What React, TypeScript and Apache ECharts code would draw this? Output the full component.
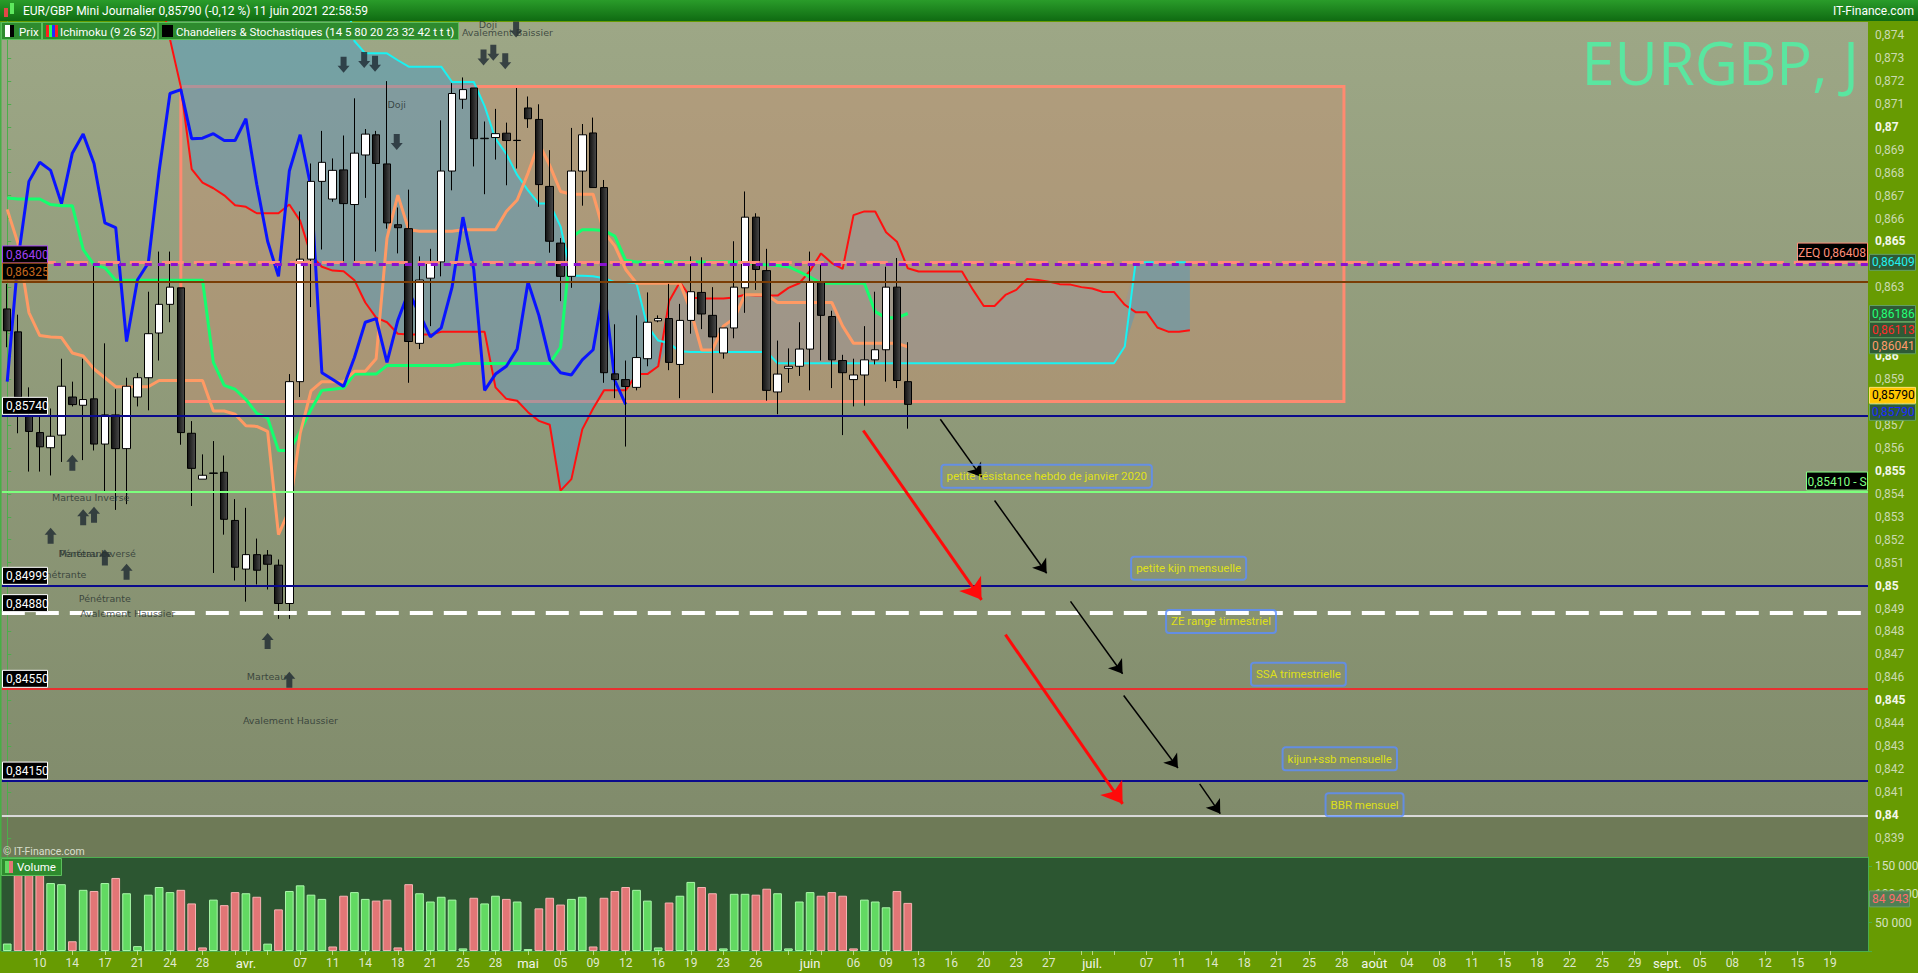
import React, { useEffect, useRef } from 'react';
import * as echarts from 'echarts';

// ---------- categories ----------
const firstSunday = [2021, 2, 7];
const barCount = 172;
const monthNames = ['janv.', 'févr.', 'mars', 'avr.', 'mai', 'juin', 'juil.', 'août', 'sept.', 'oct.', 'nov.', 'déc.'];

// ---------- candles (EUR/GBP daily) ----------
const opens = [
  0.86206, 0.86106, 0.85739, 0.85667, 0.85601, 0.85656, 0.85822, 0.85786, 0.85814, 0.85617,
  0.85744, 0.85597, 0.85822, 0.85906, 0.86101, 0.86226, 0.86298, 0.85664, 0.85464, 0.85489,
  0.85494, 0.85284, 0.85072, 0.85135, 0.85133, 0.85089, 0.84922, 0.85889, 0.86423, 0.86762,
  0.86685, 0.86812, 0.86661, 0.86877, 0.86965, 0.86838, 0.86573, 0.86556, 0.86056, 0.8634,
  0.86411, 0.86807, 0.8712, 0.87169, 0.86948, 0.86953, 0.86972, 0.86941, 0.87082, 0.87032,
  0.8674, 0.86493, 0.86348, 0.86807, 0.86973, 0.86735, 0.85923, 0.85898, 0.85864, 0.85989,
  0.86154, 0.86164, 0.85964, 0.86156, 0.86278, 0.86178, 0.86014, 0.86123, 0.86298, 0.86606,
  0.86373, 0.85844, 0.85947, 0.85956, 0.86031, 0.86323, 0.86173, 0.85981, 0.85898, 0.85918,
  0.85984, 0.86028, 0.86301, 0.85889,
];
const closes = [
  0.86111, 0.85822, 0.85672, 0.85605, 0.85651, 0.85869, 0.85789, 0.85811, 0.85617, 0.85744,
  0.85597, 0.85869, 0.85906, 0.86098, 0.86226, 0.86301, 0.85667, 0.85511, 0.85481, 0.85491,
  0.85289, 0.8508, 0.85135, 0.85067, 0.85093, 0.84922, 0.85889, 0.86423, 0.86762, 0.86845,
  0.8681, 0.86665, 0.86885, 0.86968, 0.8684, 0.86581, 0.8656, 0.86064, 0.86332, 0.86406,
  0.86807, 0.87145, 0.87162, 0.86948, 0.8695, 0.8697, 0.8694, 0.8694, 0.87035, 0.86748,
  0.86501, 0.86348, 0.86807, 0.86965, 0.86735, 0.85928, 0.85898, 0.85868, 0.85994, 0.86148,
  0.86164, 0.85973, 0.86156, 0.86281, 0.86184, 0.86084, 0.86123, 0.86301, 0.86606, 0.86378,
  0.85851, 0.85922, 0.85956, 0.86031, 0.86323, 0.86178, 0.85984, 0.85928, 0.85918, 0.85984,
  0.86028, 0.86301, 0.85894, 0.8579,
];
const lows = [
  0.86039, 0.85664, 0.85497, 0.85497, 0.8548, 0.85539, 0.85781, 0.85547, 0.85589, 0.85405,
  0.8533, 0.85355, 0.85781, 0.85764, 0.85981, 0.86148, 0.85614, 0.85347, 0.85464, 0.85055,
  0.85222, 0.85022, 0.8493, 0.85005, 0.84983, 0.84855, 0.84855, 0.85822, 0.86214, 0.86465,
  0.86673, 0.86406, 0.86415, 0.8669, 0.86456, 0.86556, 0.86448, 0.85884, 0.86031, 0.86131,
  0.86348, 0.86723, 0.87078, 0.86827, 0.86706, 0.86857, 0.86745, 0.86818, 0.86995, 0.86651,
  0.86451, 0.8624, 0.86298, 0.86656, 0.86735, 0.85884, 0.85817, 0.85606, 0.85851, 0.85956,
  0.86148, 0.85939, 0.85817, 0.86098, 0.86118, 0.85839, 0.85989, 0.86078, 0.86189, 0.86289,
  0.85806, 0.85747, 0.85884, 0.85914, 0.85851, 0.85981, 0.85861, 0.85656, 0.85781, 0.85784,
  0.85964, 0.85889, 0.85861, 0.85684,
];
const highs = [
  0.86315, 0.86181, 0.85864, 0.85739, 0.85772, 0.85989, 0.85889, 0.85989, 0.86398, 0.86056,
  0.85856, 0.85906, 0.85927, 0.86281, 0.86456, 0.86456, 0.86298, 0.85717, 0.85572, 0.8563,
  0.85567, 0.85377, 0.85339, 0.85205, 0.85155, 0.85114, 0.85922, 0.86631, 0.8684, 0.86982,
  0.86862, 0.86962, 0.87124, 0.8699, 0.86982, 0.87199, 0.86648, 0.86726, 0.86435, 0.86468,
  0.87028, 0.8719, 0.87215, 0.87169, 0.87023, 0.87078, 0.87018, 0.87169, 0.87132, 0.87098,
  0.86898, 0.86515, 0.86995, 0.87012, 0.8704, 0.86768, 0.86139, 0.85981, 0.86178, 0.86278,
  0.86178, 0.86315, 0.86228, 0.86435, 0.86431, 0.86301, 0.86123, 0.86501, 0.86718, 0.86623,
  0.86468, 0.86068, 0.86034, 0.86148, 0.86456, 0.86398, 0.86198, 0.86006, 0.85989, 0.86131,
  0.86281, 0.8639, 0.86428, 0.86061,
];

// ---------- volume ----------
const volumes = [
  13200, 160000, 160000, 150000, 120000, 118000, 17200, 108000, 106000, 120000,
  129000, 102000, 8600, 99500, 113000, 104000, 108000, 84000, 6300, 90700,
  81000, 104000, 102000, 95800, 13000, 73500, 106000, 116000, 99500, 92000,
  8000, 97600, 104000, 92000, 89000, 90700, 6300, 118000, 102000, 87400,
  95800, 90700, 4600, 94000, 84000, 97600, 92000, 87400, 3400, 75300,
  94000, 82000, 92000, 95800, 8000, 94000, 106000, 113000, 108000, 89000,
  6300, 85600, 97600, 122000, 113000, 102000, 4600, 101000, 101000, 99500,
  110000, 102000, 4600, 87400, 104000, 97600, 104000, 97600, 4600, 90700,
  87400, 77200, 106000, 84943,
];
const volumeUp = [
  1, 0, 0, 0, 1, 1, 0, 1, 0, 1,
  0, 1, 1, 1, 1, 1, 0, 0, 0, 1,
  0, 0, 1, 0, 1, 0, 1, 1, 1, 1,
  0, 0, 1, 1, 0, 0, 0, 0, 1, 1,
  1, 1, 1, 0, 1, 1, 0, 1, 1, 0,
  0, 0, 1, 1, 0, 0, 0, 0, 1, 1,
  1, 0, 1, 1, 0, 0, 1, 1, 1, 0,
  0, 1, 1, 1, 1, 0, 0, 0, 0, 1,
  1, 1, 0, 0,
];

// ---------- Ichimoku (9 26 52) ----------
const tenkan = [
  0.8664, 0.8649, 0.8619, 0.8609, 0.86084, 0.86081, 0.86014, 0.86001, 0.85944, 0.85906,
  0.85867, 0.85867, 0.85867, 0.85867, 0.85894, 0.85894, 0.85894, 0.85894, 0.85894, 0.85761,
  0.85761, 0.85747, 0.85697, 0.85694, 0.85672, 0.85222, 0.8533, 0.85664, 0.85849, 0.85889,
  0.85889, 0.85889, 0.85934, 0.85934, 0.85989, 0.86515, 0.86702, 0.86551, 0.86545, 0.86545,
  0.86545, 0.86545, 0.86551, 0.86551, 0.86551, 0.86551, 0.86631, 0.86681, 0.86798, 0.86928,
  0.86832, 0.86718, 0.86706, 0.86706, 0.86706, 0.8654, 0.86481, 0.86378, 0.86318, 0.86318,
  0.86318, 0.86318, 0.86318, 0.86198, 0.86027, 0.86027, 0.86131, 0.86164, 0.86268, 0.86268,
  0.86268, 0.86234, 0.86234, 0.86234, 0.86234, 0.86234, 0.86234, 0.86131, 0.86056, 0.86056,
  0.86056, 0.86056, 0.86056, 0.86041,
];
const kijun = [
  0.8669, 0.86685, 0.86685, 0.86685, 0.86661, 0.86656, 0.86656, 0.86465, 0.86398, 0.86385,
  0.86331, 0.86331, 0.86331, 0.86331, 0.86331, 0.86331, 0.86331, 0.86331, 0.86331, 0.85973,
  0.85873, 0.85856, 0.85811, 0.85751, 0.85731, 0.85589, 0.85589, 0.85672, 0.85767, 0.85851,
  0.85856, 0.85861, 0.85922, 0.85922, 0.85922, 0.85959, 0.85959, 0.85959, 0.85959, 0.85959,
  0.85959, 0.85959, 0.85968, 0.85968, 0.85968, 0.85968, 0.85968, 0.85968, 0.85968, 0.85968,
  0.85968, 0.86039, 0.86518, 0.86551, 0.86551, 0.86548, 0.86523, 0.86418, 0.86411, 0.86411,
  0.86411, 0.86411, 0.86411, 0.86411, 0.86411, 0.86411, 0.86411, 0.86411, 0.86411, 0.86401,
  0.86398, 0.86395, 0.8639, 0.86368, 0.86345, 0.86318, 0.86318, 0.86318, 0.86318, 0.86318,
  0.86194, 0.86167, 0.86167, 0.86186,
];
const ssa = [
  null, null, null, null, null, null, null, null, null, null,
  null, null, null, null, 0.876, 0.87382, 0.87174, 0.86815, 0.86757, 0.86732,
  0.86701, 0.86658, 0.86651, 0.86623, 0.86623, 0.86623, 0.86661, 0.8659, 0.8644, 0.8639,
  0.86373, 0.8637, 0.86331, 0.86234, 0.86168, 0.86148, 0.86098, 0.86094, 0.86094, 0.86094,
  0.86106, 0.86106, 0.86106, 0.86106, 0.86106, 0.85864, 0.85814, 0.85806, 0.85756, 0.85718,
  0.85701, 0.85414, 0.85464, 0.85681, 0.85772, 0.85851, 0.85851, 0.85851, 0.85922, 0.85922,
  0.85956, 0.86239, 0.86323, 0.86256, 0.86251, 0.86251, 0.86251, 0.86256, 0.86268, 0.86264,
  0.86264, 0.86264, 0.86298, 0.86318, 0.86373, 0.86448, 0.86406, 0.86381, 0.86615, 0.86631,
  0.86631, 0.8654, 0.86499, 0.86383, 0.86369, 0.86369, 0.86369, 0.86369, 0.86369, 0.8629,
  0.86219, 0.86219, 0.86267, 0.86289, 0.86337, 0.86332, 0.86325, 0.86314, 0.86312, 0.86301,
  0.86295, 0.8628, 0.8628, 0.86224, 0.86192, 0.86192, 0.86125, 0.86107, 0.86107, 0.86113,
];
const ssb = [
  null, null, null, null, null, null, null, null, null, null,
  null, null, null, null, 0.8765, 0.8765, 0.8765, 0.8765, 0.8765, 0.8765,
  0.8765, 0.8765, 0.8765, 0.8765, 0.8765, 0.8765, 0.8765, 0.8765, 0.8765, 0.8765,
  0.8765, 0.8765, 0.87374, 0.8732, 0.8732, 0.8732, 0.8729, 0.87262, 0.87262, 0.87262,
  0.87262, 0.87195, 0.87195, 0.87195, 0.8709, 0.86948, 0.86882, 0.8679, 0.86723, 0.86665,
  0.86665, 0.86565, 0.86351, 0.86351, 0.86348, 0.8634, 0.86323, 0.86323, 0.86318, 0.86131,
  0.86068, 0.86056, 0.86021, 0.86018, 0.86018, 0.86018, 0.86018, 0.86018, 0.86018, 0.86018,
  0.86018, 0.85969, 0.85969, 0.85969, 0.85969, 0.85969, 0.85969, 0.85969, 0.85969, 0.85969,
  0.85969, 0.85969, 0.85969, 0.85969, 0.85969, 0.85969, 0.85969, 0.85969, 0.85969, 0.85969,
  0.85969, 0.85969, 0.85969, 0.85969, 0.85969, 0.85969, 0.85969, 0.85969, 0.85969, 0.85969,
  0.85969, 0.85969, 0.85969, 0.86042, 0.86409, 0.86409, 0.86409, 0.86409, 0.86409, 0.86409,
];
const chikouShift = 26;

// ---------- horizontal levels ----------
const levelValues = [0.86408, 0.864, 0.86325, 0.8574, 0.8541, 0.84999, 0.8488, 0.8455, 0.8415, 0.83995];
const leftTagValues = [0.864, 0.86325, 0.8574, 0.84999, 0.8488, 0.8455, 0.8415];
const zeqValue = 0.86408;
const supportValue = 0.8541;
const axisTagValues = [0.86409, 0.86186, 0.86113, 0.86041, 0.8579, 0.8579];

// ---------- drawings ----------
const rangeBox = [16.0, 0.87175, 123.2, 0.85802];
const redArrows = [
  [78.9, 0.85676, 89.8, 0.84938],
  [92.0, 0.84786, 102.8, 0.84049],
];
const blackArrows = [
  [86.0, 0.85725, 89.8, 0.85473],
  [91.0, 0.85371, 95.8, 0.85054],
  [98.0, 0.84931, 102.8, 0.84616],
  [102.9, 0.84521, 107.9, 0.84205],
  [109.9, 0.84136, 111.8, 0.84006],
];
const boxLabels = ['petite résistance hebdo de janvier 2020', 'petite kijn mensuelle', 'ZE range tirmestriel', 'SSA trimestrielle', 'kijun+ssb mensuelle', 'BBR mensuel'];
const boxX = [86.06, 103.54, 106.76, 114.59, 117.5, 121.46];
const boxY = [0.85477, 0.85076, 0.84844, 0.84614, 0.84245, 0.84045];

const downArrowX = [31, 32.9, 33.9, 35.9, 43.9, 44.8, 45.9, 46.9];
const downArrowY = [0.8727, 0.87291, 0.87275, 0.86934, 0.87302, 0.87323, 0.87286, 0.87424];
const upArrowX = [4.0, 6.0, 7.0, 8.0, 9.0, 11.0, 24.0, 26.0];
const upArrowY = [0.85217, 0.85535, 0.85298, 0.85309, 0.85122, 0.8506, 0.84759, 0.8459];

const patternLabels = ['Doji', 'Doji', 'Avalement Baissier', 'Marteau Inversé', 'Marteau Inversé', 'Pénétrante', 'Pénétrante', 'Pénétrante', 'Avalement Haussier', 'Marteau', 'Avalement Haussier'];
const patternX = [35.9, 44.3, 46.1, 7.7, 8.3, 7.2, 4.9, 9.0, 11.1, 23.9, 26.1];
const patternY = [0.87099, 0.87444, 0.87409, 0.85383, 0.85139, 0.85139, 0.85047, 0.84943, 0.84877, 0.84605, 0.84413];

// ---------- helpers ----------
function buildDates() {
  const out: Date[] = [];
  let t = Date.UTC(firstSunday[0], firstSunday[1], firstSunday[2]);
  while (out.length < barCount) {
    const d = new Date(t);
    if (d.getUTCDay() !== 6) out.push(d);
    t += 86400000;
  }
  return out;
}
const fmt5 = (v: number) => v.toFixed(5).replace('.', ',');
const fmtVol = (v: number) => String(Math.round(v)).replace(/\B(?=(\d{3})+(?!\d))/g, ' ');

function buildOption() {
  const dates = buildDates();
  const cats = dates.map((d) => d.toISOString().slice(0, 10));
  const monthFirst = dates.map((d, i) => i > 0 && d.getUTCMonth() !== dates[i - 1].getUTCMonth());
  const isMark = dates.map((d, i) => i >= 1 && i <= 170 && (monthFirst[i] || d.getUTCDay() === 0 || d.getUTCDay() === 3));
  const labelOf = dates.map((d, i) => {
    if (monthFirst[i]) return '{m|' + monthNames[d.getUTCMonth()] + '}';
    const dow = d.getUTCDay();
    if (dow !== 0 && dow !== 3) return '';
    if (i < 2 || i > 169) return '';
    for (let k = i - 2; k <= i + 2; k++) if (k >= 0 && k < barCount && monthFirst[k]) return '';
    return String(d.getUTCDate()).padStart(2, '0');
  });

  const candleData = opens.map((o, i) => [o, closes[i], lows[i], highs[i]]);
  const chikou = closes.slice(chikouShift);
  const kBase = ssa.map((a, i) => (a == null || ssb[i] == null ? null : Math.min(a, ssb[i] as number)));
  const kUp = ssa.map((a, i) => (a == null || ssb[i] == null ? null : Math.max((ssb[i] as number) - a, 0)));
  const kDown = ssa.map((a, i) => (a == null || ssb[i] == null ? null : Math.max(a - (ssb[i] as number), 0)));

  const levelStyles: any[] = [
    { color: '#ff8c78', width: 3, type: [22, 10] },
    { color: '#8a10d0', width: 3, type: [7, 6] },
    { color: '#7a3d05', width: 2, type: 'solid' },
    { color: '#0a0a8c', width: 2, type: 'solid' },
    { color: '#7dff7d', width: 2, type: 'solid' },
    { color: '#0a0a8c', width: 2, type: 'solid' },
    { color: '#ffffff', width: 4, type: [23, 11] },
    { color: '#e83030', width: 2, type: 'solid' },
    { color: '#0a0a8c', width: 2, type: 'solid' },
    { color: '#d9d9d9', width: 2, type: 'solid' },
  ];

  const lineBase = (data: any[], color: string, width: number, z: number) => ({
    type: 'line', xAxisIndex: 0, yAxisIndex: 0, data, symbol: 'none', silent: true, z,
    lineStyle: { color, width }, connectNulls: false,
  });

  const downPath = 'path://M3,0 L9,0 L9,9 L12,9 L6,16 L0,9 L3,9 Z';

  return {
    animation: false,
    textStyle: { fontFamily: 'Roboto' },
    tooltip: { show: false },
    grid: [
      { left: 1.8, right: 50, top: 12.06, bottom: 112.1, outerBoundsMode: 'none', containLabel: false },
      { left: 1.8, right: 50, top: 857, bottom: 22, outerBoundsMode: 'none', containLabel: false },
    ],
    xAxis: [
      { type: 'category', gridIndex: 0, data: cats, boundaryGap: true, show: false },
      { type: 'value', gridIndex: 0, min: -0.5, max: barCount - 0.5, show: false },
      {
        type: 'category', gridIndex: 1, data: cats, boundaryGap: true,
        axisLine: { show: true, lineStyle: { color: '#4cae4c', width: 1 } },
        axisTick: { show: true, alignWithLabel: true, length: 4, interval: (i: number) => isMark[i], lineStyle: { color: '#b8d888' } },
        axisLabel: {
          interval: (i: number) => labelOf[i] !== '',
          formatter: (_v: string, i: number) => labelOf[i],
          color: '#dfe8cc', fontSize: 12, margin: 6, fontFamily: 'Roboto',
          rich: { m: { color: '#f2f4ea', fontSize: 13, fontFamily: 'Roboto' } },
        },
      },
    ],
    yAxis: [
      {
        type: 'value', gridIndex: 0, position: 'right', min: 0.838, max: 0.875, interval: 0.001, scale: true,
        splitLine: { show: false },
        axisLine: { show: true, lineStyle: { color: '#4cae4c' } },
        axisTick: { show: true, length: 4, lineStyle: { color: '#4cae4c' } },
        axisLabel: {
          margin: 7, color: '#cbdab0', fontSize: 12, fontFamily: 'Roboto',
          formatter: (v: number) => {
            const k = Math.round(v * 1000);
            if (k <= 838 || k >= 875) return '';
            const s = (k / 1000).toString().replace('.', ',');
            return k % 5 === 0 ? '{b|' + s + '}' : s;
          },
          rich: { b: { color: '#f4f7ea', fontWeight: 'bold', fontSize: 12, fontFamily: 'Roboto' } },
        },
      },
      {
        type: 'value', gridIndex: 1, position: 'right', min: 0, max: 166000, interval: 50000,
        splitLine: { show: false },
        axisLine: { show: true, lineStyle: { color: '#4cae4c' } },
        axisTick: { show: true, length: 4, lineStyle: { color: '#4cae4c' } },
        axisLabel: {
          margin: 7, color: '#d6e2c0', fontSize: 12, fontFamily: 'Roboto',
          formatter: (v: number) => (v === 0 ? '' : fmtVol(v)),
        },
      },
    ],
    series: [
      {
        type: 'line', xAxisIndex: 1, yAxisIndex: 0, data: [], z: 1, silent: true,
        markArea: {
          silent: true,
          itemStyle: { color: 'rgba(220,140,110,0.33)', borderColor: '#ff8a70', borderWidth: 3 },
          data: [[{ coord: [rangeBox[0], rangeBox[1]] }, { coord: [rangeBox[2], rangeBox[3]] }]],
        },
      },
      { type: 'line', xAxisIndex: 0, yAxisIndex: 0, stack: 'kumo', data: kBase, symbol: 'none', silent: true, z: 1, lineStyle: { opacity: 0 } },
      { type: 'line', xAxisIndex: 0, yAxisIndex: 0, stack: 'kumo', data: kUp, symbol: 'none', silent: true, z: 1, lineStyle: { opacity: 0 }, areaStyle: { color: 'rgba(60,155,210,0.4)', opacity: 1 } },
      { type: 'line', xAxisIndex: 0, yAxisIndex: 0, stack: 'kumo', data: kDown, symbol: 'none', silent: true, z: 1, lineStyle: { opacity: 0 }, areaStyle: { color: 'rgba(140,150,170,0.35)', opacity: 1 } },
      lineBase(ssa, '#ff1010', 2, 2),
      lineBase(ssb, '#19f2f2', 2, 2),
      lineBase(kijun, '#14ff6e', 3, 2),
      lineBase(tenkan, '#ff9a64', 3, 2),
      lineBase(chikou, '#0a14ff', 3, 2),
      {
        type: 'candlestick', xAxisIndex: 0, yAxisIndex: 0, data: candleData, barWidth: 8, z: 3, silent: true,
        itemStyle: {
          color: '#ffffff',
          color0: new echarts.graphic.LinearGradient(0, 0, 1, 0, [{ offset: 0, color: '#111111' }, { offset: 1, color: '#4a4a4a' }]),
          borderColor: '#000000', borderColor0: '#000000', borderWidth: 1,
        },
      },
      {
        type: 'line', xAxisIndex: 1, yAxisIndex: 0, data: [], z: 4, silent: true,
        markLine: {
          silent: true, precision: 6, symbol: ['none', 'none'], label: { show: false },
          data: levelValues.map((v, k) => ({ yAxis: v, lineStyle: levelStyles[k] })),
        },
      },
      {
        type: 'line', xAxisIndex: 1, yAxisIndex: 0, data: [], z: 5, silent: true,
        markLine: {
          silent: true, precision: 6, symbol: ['none', 'arrow'], symbolSize: 20, label: { show: false },
          lineStyle: { color: '#ff0a0a', width: 3, type: 'solid' },
          data: redArrows.map((a) => [{ coord: [a[0], a[1]] }, { coord: [a[2], a[3]] }]),
        },
      },
      {
        type: 'line', xAxisIndex: 1, yAxisIndex: 0, data: [], z: 5, silent: true,
        markLine: {
          silent: true, precision: 6, symbol: ['none', 'arrow'], symbolSize: 13, label: { show: false },
          lineStyle: { color: '#000000', width: 1.5, type: 'solid' },
          data: blackArrows.map((a) => [{ coord: [a[0], a[1]] }, { coord: [a[2], a[3]] }]),
        },
      },
      {
        type: 'scatter', xAxisIndex: 1, yAxisIndex: 0, z: 5, silent: true, symbol: downPath, symbolSize: [12, 16],
        itemStyle: { color: '#1e2932' },
        data: downArrowX.map((x, k) => [x, downArrowY[k]]),
      },
      {
        type: 'scatter', xAxisIndex: 1, yAxisIndex: 0, z: 5, silent: true, symbol: downPath, symbolSize: [12, 16], symbolRotate: 180,
        itemStyle: { color: '#1e2932' },
        data: upArrowX.map((x, k) => [x, upArrowY[k]]),
      },
      {
        type: 'scatter', xAxisIndex: 1, yAxisIndex: 0, z: 5, silent: true, symbolSize: 1,
        itemStyle: { color: 'rgba(0,0,0,0)' },
        label: { show: true, position: 'inside', formatter: '{b}', color: '#283230', fontSize: 9.5, fontFamily: 'DejaVu Sans' },
        data: patternX.map((x, k) => ({ value: [x, patternY[k]], name: patternLabels[k] })),
      },
      {
        type: 'scatter', xAxisIndex: 1, yAxisIndex: 0, z: 6, silent: true, symbolSize: 1,
        itemStyle: { color: 'rgba(0,0,0,0)' },
        label: {
          show: true, position: 'right', distance: 0, formatter: '{b}', color: '#f5f500', fontSize: 11.5, fontFamily: 'Roboto',
          borderColor: '#5b8dff', borderWidth: 1, borderRadius: 3, padding: [6, 5, 5, 5], backgroundColor: 'rgba(0,0,0,0)',
        },
        data: boxX.map((x, k) => ({ value: [x, boxY[k]], name: boxLabels[k] })),
      },
      {
        type: 'bar', xAxisIndex: 2, yAxisIndex: 1, barWidth: '80%', silent: true,
        data: volumes.map((v, i) => ({
          value: v,
          itemStyle: volumeUp[i]
            ? { color: '#62d962', borderColor: '#a9f7a9', borderWidth: 1 }
            : { color: '#e27676', borderColor: '#f7b3b3', borderWidth: 1 },
        })),
      },
    ],
  };
}

function buildGraphics(chart: any) {
  const yP = (v: number) => chart.convertToPixel({ yAxisIndex: 0 }, v) as number;
  const yV = (v: number) => chart.convertToPixel({ yAxisIndex: 1 }, v) as number;
  const grad = (c1: string, c2: string) => new echarts.graphic.LinearGradient(0, 0, 0, 1, [{ offset: 0, color: c1 }, { offset: 1, color: c2 }]);
  const els: any[] = [];
  const bandTop = yP(levelValues[9]);
  // backgrounds
  els.push({ type: 'rect', z: -10, silent: true, shape: { x: 0, y: 22, width: 1868, height: 835 }, style: { fill: grad('#9da786', '#7f8a6a') } });
  els.push({ type: 'rect', z: -9, silent: true, shape: { x: 0, y: bandTop + 1, width: 1868, height: 857 - bandTop - 1 }, style: { fill: '#6e7a57' } });
  els.push({ type: 'rect', z: -9, silent: true, shape: { x: 0, y: 857, width: 1868, height: 94 }, style: { fill: '#2c5631' } });
  els.push({ type: 'line', z: 50, silent: true, shape: { x1: 0.75, y1: 22, x2: 0.75, y2: 951 }, style: { stroke: '#45b045', lineWidth: 1.5 } });
  els.push({ type: 'line', z: 50, silent: true, shape: { x1: 0, y1: 857.5, x2: 1868, y2: 857.5 }, style: { stroke: '#4caf50', lineWidth: 1 } });

  // header
  els.push({ type: 'rect', z: 100, silent: true, shape: { x: 0, y: 0, width: 1918, height: 21 }, style: { fill: grad('#2a9c2a', '#0f6b12') } });
  els.push({ type: 'rect', z: 101, shape: { x: 4, y: 8, width: 4, height: 9 }, style: { fill: '#e04848' } });
  els.push({ type: 'rect', z: 101, shape: { x: 10, y: 3, width: 4, height: 11 }, style: { fill: '#5ee85e' } });
  els.push({ type: 'text', z: 101, x: 23, y: 11, style: { text: 'EUR/GBP Mini Journalier 0,85790 (-0,12 %) 11 juin 2021 22:58:59', fill: '#ffffff', fontSize: 12, fontFamily: 'Roboto', verticalAlign: 'middle', align: 'left' } });
  els.push({ type: 'text', z: 101, x: 1914, y: 11, style: { text: 'IT-Finance.com', fill: '#ffffff', fontSize: 12, fontFamily: 'Roboto', verticalAlign: 'middle', align: 'right' } });

  // legend chips
  const chips = [
    { x: 1, w: 40, text: 'Prix' },
    { x: 42, w: 115, text: 'Ichimoku (9 26 52)' },
    { x: 158, w: 300, text: 'Chandeliers & Stochastiques (14 5 80 20 23 32 42 t t t)' },
  ];
  chips.forEach((c, k) => {
    els.push({ type: 'rect', z: 100, shape: { x: c.x + 0.5, y: 22.5, width: c.w, height: 17 }, style: { fill: '#2e8b2e', stroke: '#5cbf5c', lineWidth: 1 } });
    els.push({ type: 'text', z: 101, x: c.x + 18, y: 31.5, style: { text: c.text, fill: '#ffffff', fontSize: 11.5, fontFamily: 'Roboto', verticalAlign: 'middle' } });
    if (k === 0) {
      els.push({ type: 'rect', z: 101, shape: { x: c.x + 4, y: 25, width: 5, height: 12 }, style: { fill: '#ffffff' } });
      els.push({ type: 'rect', z: 101, shape: { x: c.x + 9, y: 25, width: 4, height: 12 }, style: { fill: '#000000' } });
    } else if (k === 1) {
      ['#ff2020', '#20ff60', '#2030ff', '#ff2020'].forEach((col, j) => {
        els.push({ type: 'rect', z: 101, shape: { x: c.x + 4 + j * 3, y: 25, width: 3, height: 12 }, style: { fill: col } });
      });
    } else {
      els.push({ type: 'rect', z: 101, shape: { x: c.x + 4, y: 25, width: 11, height: 12 }, style: { fill: '#000000' } });
    }
  });

  // volume chip & copyright
  els.push({ type: 'rect', z: 100, shape: { x: 1.5, y: 858.5, width: 60, height: 17 }, style: { fill: '#2e8b2e', stroke: '#5cbf5c', lineWidth: 1 } });
  els.push({ type: 'rect', z: 101, shape: { x: 5, y: 861, width: 4, height: 12 }, style: { fill: '#62d962' } });
  els.push({ type: 'rect', z: 101, shape: { x: 9, y: 861, width: 4, height: 12 }, style: { fill: '#e27676' } });
  els.push({ type: 'text', z: 101, x: 17, y: 867, style: { text: 'Volume', fill: '#ffffff', fontSize: 11.5, fontFamily: 'Roboto', verticalAlign: 'middle' } });
  els.push({ type: 'text', z: 60, x: 3, y: 851, style: { text: '© IT-Finance.com', fill: '#d9dfcc', fontSize: 10.5, fontFamily: 'Roboto', verticalAlign: 'middle' } });

  // watermark
  els.push({ type: 'text', z: 5, x: 1859, y: 61, style: { text: 'EURGBP, J', fill: '#5ae6a0', fontSize: 59.5, fontFamily: 'Open Sans', verticalAlign: 'middle', align: 'right' } });

  // left tags
  const leftColors = ['#a040f0', '#c4681e', '#ffffff', '#ffffff', '#ffffff', '#ffffff', '#ffffff'];
  leftTagValues.forEach((v, k) => {
    const y = yP(v);
    els.push({ type: 'rect', z: 80, shape: { x: 2.5, y: y - 18.5, width: 45, height: 17 }, style: { fill: '#000000', stroke: leftColors[k], lineWidth: 1 } });
    els.push({ type: 'text', z: 81, x: 6, y: y - 9.5, style: { text: fmt5(v), fill: leftColors[k], fontSize: 12, fontFamily: 'Roboto', verticalAlign: 'middle' } });
  });

  // in-plot right tags
  const yz = yP(zeqValue);
  els.push({ type: 'rect', z: 80, shape: { x: 1797.5, y: yz - 19.5, width: 70, height: 18 }, style: { fill: '#000000', stroke: '#ff8f7a', lineWidth: 1 } });
  els.push({ type: 'text', z: 81, x: 1832, y: yz - 10, style: { text: 'ZEQ ' + fmt5(zeqValue), fill: '#ff8f7a', fontSize: 12, fontFamily: 'Roboto', verticalAlign: 'middle', align: 'center' } });
  const ys = yP(supportValue);
  els.push({ type: 'rect', z: 80, shape: { x: 1806.5, y: ys - 19.5, width: 61, height: 18 }, style: { fill: '#000000', stroke: '#80ff80', lineWidth: 1 } });
  els.push({ type: 'text', z: 81, x: 1837, y: ys - 10, style: { text: fmt5(supportValue) + ' - S', fill: '#80ff80', fontSize: 12, fontFamily: 'Roboto', verticalAlign: 'middle', align: 'center' } });

  // axis tags
  const tagText = ['#22f0f0', '#22ff77', '#ff2a2a', '#ff9a6a', '#000000', '#1a2aff'];
  const tagFill = ['#2f5a36', '#2f5a36', '#2f5a36', '#2f5a36', '#ffc600', '#2f5a36'];
  const tagDy = [0, 0, 0, -1, -9, 8];
  axisTagValues.forEach((v, k) => {
    const c = yP(v) + tagDy[k];
    els.push({ type: 'rect', z: 90, shape: { x: 1869.5, y: c - 8, width: 46, height: 16 }, style: { fill: tagFill[k], stroke: k === 4 ? '#ffe070' : '#62a062', lineWidth: 1 } });
    els.push({ type: 'text', z: 91, x: 1872, y: c, style: { text: fmt5(v), fill: tagText[k], fontSize: 12, fontFamily: 'Roboto', verticalAlign: 'middle' } });
  });
  const lastVol = volumes[volumes.length - 1];
  const cv = yV(lastVol) - 4;
  els.push({ type: 'rect', z: 90, shape: { x: 1869.5, y: cv - 8, width: 40, height: 16 }, style: { fill: '#4f7f55', stroke: '#6aa06a', lineWidth: 1 } });
  els.push({ type: 'text', z: 91, x: 1872, y: cv, style: { text: fmtVol(lastVol), fill: '#ff6b6b', fontSize: 12, fontFamily: 'Roboto', verticalAlign: 'middle' } });

  return els;
}

export default function App() {
  const ref = useRef<HTMLDivElement>(null);
  useEffect(() => {
    document.body.style.margin = '0';
    const el = ref.current!;
    const chart = echarts.init(el, undefined, { renderer: 'svg' });
    chart.setOption(buildOption() as any);
    chart.setOption({ graphic: { elements: buildGraphics(chart) } } as any);
    return () => chart.dispose();
  }, []);
  return (
    <div
      ref={ref}
      style={{ display: 'block', width: 1918, height: 973, background: '#679b02', overflow: 'hidden' }}
    />
  );
}
